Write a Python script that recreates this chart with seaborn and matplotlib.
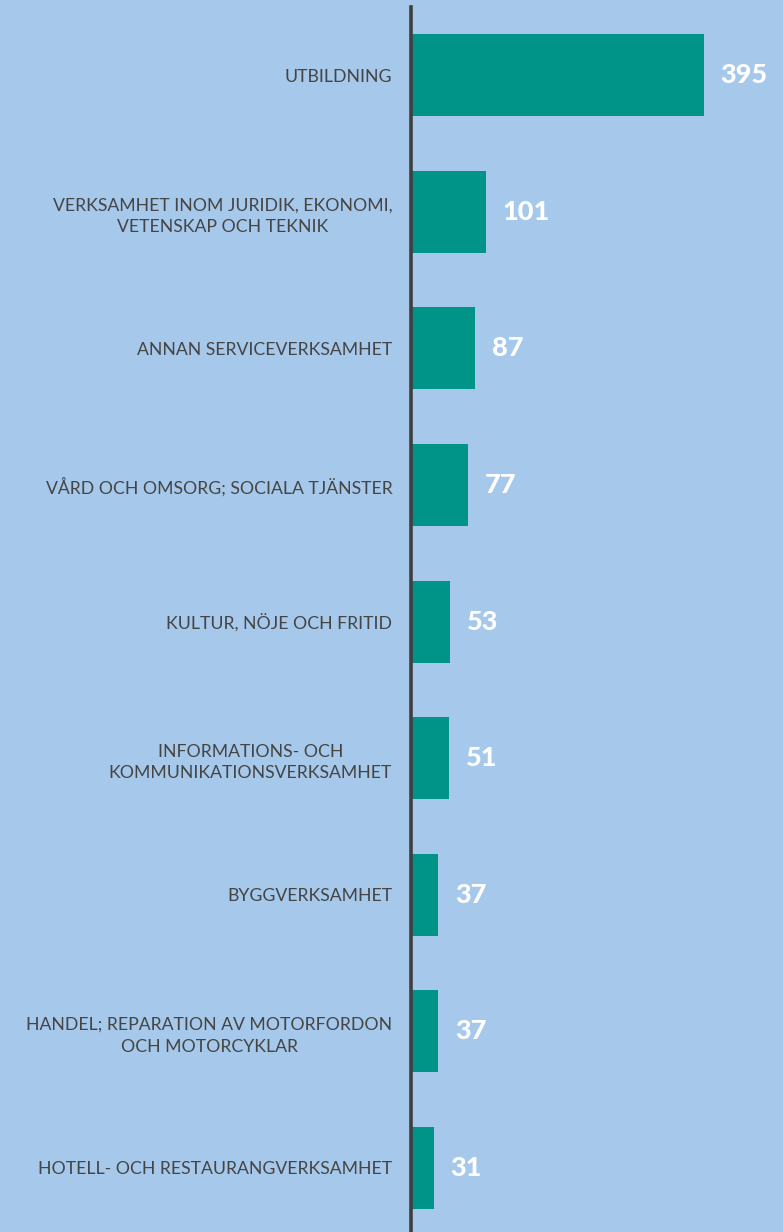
import matplotlib.pyplot as plt
import pandas as pd
import seaborn as sns

categories = [
    'UTBILDNING',
    'VERKSAMHET INOM JURIDIK, EKONOMI,\nVETENSKAP OCH TEKNIK',
    'ANNAN SERVICEVERKSAMHET',
    'VÅRD OCH OMSORG; SOCIALA TJÄNSTER',
    'KULTUR, NÖJE OCH FRITID',
    'INFORMATIONS- OCH\nKOMMUNIKATIONSVERKSAMHET',
    'BYGGVERKSAMHET',
    'HANDEL; REPARATION AV MOTORFORDON\nOCH MOTORCYKLAR',
    'HOTELL- OCH RESTAURANGVERKSAMHET',
]
values = [395, 101, 87, 77, 53, 51, 37, 37, 31]

bg = '#A6C8EA'
bar_color = '#009488'
text_color = '#454545'

df = pd.DataFrame({'sector': categories, 'count': values})

sns.set_style('white')
plt.rcParams['font.family'] = ['Lato', 'DejaVu Sans']

fig = plt.figure(figsize=(7.83, 12.32), dpi=100)
fig.patch.set_facecolor(bg)
ax = fig.add_axes([411 / 783, 0, 372 / 783, 1 - 7 / 1232])
ax.set_facecolor(bg)

sns.barplot(data=df, x='count', y='sector', orient='h', color=bar_color,
            width=0.6, saturation=1, linewidth=0, edgecolor=bar_color, ax=ax)

ax.set_xlim(0, 502)
ax.set_ylim(8.47, -0.5)
ax.set_xlabel('')
ax.set_ylabel('')
ax.set_xticks([])
for s in ['top', 'right', 'bottom']:
    ax.spines[s].set_visible(False)
ax.spines['left'].set_color('#3f3f3f')
ax.spines['left'].set_linewidth(2.6)
ax.spines['left'].set_zorder(5)

ax.set_yticks(range(len(categories)))
ax.set_yticklabels(categories, fontsize=12.7, color=text_color,
                   multialignment='center', linespacing=1.45)
ax.tick_params(axis='y', length=0, pad=13.5)

for i, v in enumerate(values):
    ax.annotate(str(v), xy=(v, i), xytext=(12, 0), textcoords='offset points',
                ha='left', va='center', color='white', fontsize=19.5,
                fontweight='black')

fig.savefig('out.png', dpi=100, facecolor=bg)
